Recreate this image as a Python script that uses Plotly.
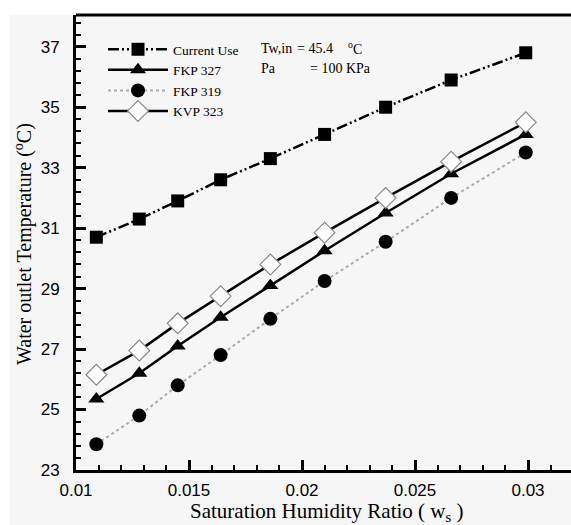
import plotly.graph_objects as go

# ---- data ----
humidity_ratio = [0.0109, 0.0128, 0.0145, 0.0164, 0.0186, 0.0210, 0.0237, 0.0266, 0.0299]
current_use = [30.7, 31.3, 31.9, 32.6, 33.3, 34.1, 35.0, 35.9, 36.8]
fkp_327 = [25.35, 26.2, 27.1, 28.05, 29.1, 30.25, 31.5, 32.8, 34.1]
fkp_319 = [23.85, 24.8, 25.8, 26.8, 28.0, 29.25, 30.55, 32.0, 33.5]
kvp_323 = [26.15, 26.95, 27.85, 28.75, 29.8, 30.85, 32.0, 33.2, 34.5]
x_ticks = [0.01, 0.015, 0.02, 0.025, 0.03]
x_tick_labels = ["0.01", "0.015", "0.02", "0.025", "0.03"]
y_ticks = [23, 25, 27, 29, 31, 33, 35, 37]

W, H = 571, 525
ML, MT, MR, MB = 76, 15, 0, 55
BG = "#f6f6f6"

fig = go.Figure()
fig.add_trace(go.Scatter(
    x=humidity_ratio, y=current_use, name="Current Use", mode="lines+markers",
    line=dict(color="black", width=2.5, dash="11px,3px,2px,3px,2px,3px"),
    marker=dict(symbol="square", size=13, color="black")))
fig.add_trace(go.Scatter(
    x=humidity_ratio, y=fkp_327, name="FKP 327", mode="lines+markers",
    line=dict(color="black", width=2.5),
    marker=dict(symbol="triangle-up", size=14, color="black")))
fig.add_trace(go.Scatter(
    x=humidity_ratio, y=fkp_319, name="FKP 319", mode="lines+markers",
    line=dict(color="#aaaaaa", width=2, dash="dot"),
    marker=dict(symbol="circle", size=14, color="black")))
fig.add_trace(go.Scatter(
    x=humidity_ratio, y=kvp_323, name="KVP 323", mode="lines+markers",
    line=dict(color="black", width=2.5),
    marker=dict(symbol="diamond", size=16, color="white", line=dict(color="#888888", width=1.2))))

pw = W - ML - MR
ph = H - MT - MB

axis_common = dict(
    showline=True, linecolor="black", linewidth=3, showgrid=False, zeroline=False,
    ticks="inside", ticklen=10, tickwidth=2.5, tickcolor="black",
    tickfont=dict(family="Liberation Sans, Arial, sans-serif", size=17, color="black"),
)

fig.update_xaxes(
    range=[0.01, 0.01 + pw / 22600], tickvals=x_ticks, ticktext=x_tick_labels,
    minor=dict(dtick=0.001, ticks="inside", ticklen=5, tickwidth=1.5, tickcolor="black"),
    ticklabelstandoff=3, **axis_common)
fig.update_yaxes(
    range=[23, 38.05], tickvals=y_ticks,
    minor=dict(dtick=0.4, tick0=23, ticks="inside", ticklen=5, tickwidth=1.5, tickcolor="black"),
    ticklabelstandoff=10, **axis_common)

shapes = [
    # white strips outside the grey panel
    dict(type="rect", xref="paper", yref="paper", x0=-0.3, x1=1.2, y0=1, y1=1.2,
         fillcolor="white", line=dict(width=0), layer="below"),
    dict(type="rect", xref="paper", yref="paper", x0=-0.3, x1=-(ML - 10) / pw, y0=-0.3, y1=1.2,
         fillcolor="white", line=dict(width=0), layer="below"),
    # top frame line
    dict(type="line", xref="paper", yref="paper", x0=0, x1=1, y0=1, y1=1,
         line=dict(color="black", width=3)),
]

serif = "Liberation Serif, Times New Roman, serif"


def px_x(v):
    return (v - ML) / pw


def px_y(v):
    return (H - MB - v) / ph


note_font = dict(family=serif, size=14, color="black")
annotations = [
    dict(text="Saturation Humidity Ratio ( w<sub>s</sub> )", xref="paper", yref="paper",
         x=px_x(326), y=px_y(512), showarrow=False,
         font=dict(family=serif, size=21, color="black"), xanchor="center", yanchor="middle"),
    dict(text="Water outlet Temperature (<sup>o</sup>C)", xref="paper", yref="paper",
         x=px_x(23), y=px_y(244), showarrow=False, textangle=-90,
         font=dict(family=serif, size=20, color="black"), xanchor="center", yanchor="middle"),
    dict(text="Tw,in", xref="paper", yref="paper", x=px_x(259), y=px_y(49),
         showarrow=False, xanchor="left", yanchor="middle", font=note_font),
    dict(text="= 45.4", xref="paper", yref="paper", x=px_x(295), y=px_y(49),
         showarrow=False, xanchor="left", yanchor="middle", font=note_font),
    dict(text="<sup>o</sup>C", xref="paper", yref="paper", x=px_x(346), y=px_y(48),
         showarrow=False, xanchor="left", yanchor="middle", font=note_font),
    dict(text="Pa", xref="paper", yref="paper", x=px_x(259), y=px_y(68),
         showarrow=False, xanchor="left", yanchor="middle", font=note_font),
    dict(text="= 100 KPa", xref="paper", yref="paper", x=px_x(308), y=px_y(68),
         showarrow=False, xanchor="left", yanchor="middle", font=note_font),
]

fig.update_layout(
    width=W, height=H, margin=dict(l=ML, r=MR, t=MT, b=MB, pad=0),
    paper_bgcolor=BG, plot_bgcolor=BG,
    showlegend=True,
    legend=dict(x=px_x(103), y=px_y(34), xanchor="left", yanchor="top",
                bgcolor="rgba(0,0,0,0)", borderwidth=0, itemwidth=60, tracegroupgap=0,
                font=dict(family=serif, size=13.5, color="black")),
    shapes=shapes, annotations=annotations,
)

fig.write_html("out.html", config={"displayModeBar": False},
               post_script="document.body.style.margin='0px';")
